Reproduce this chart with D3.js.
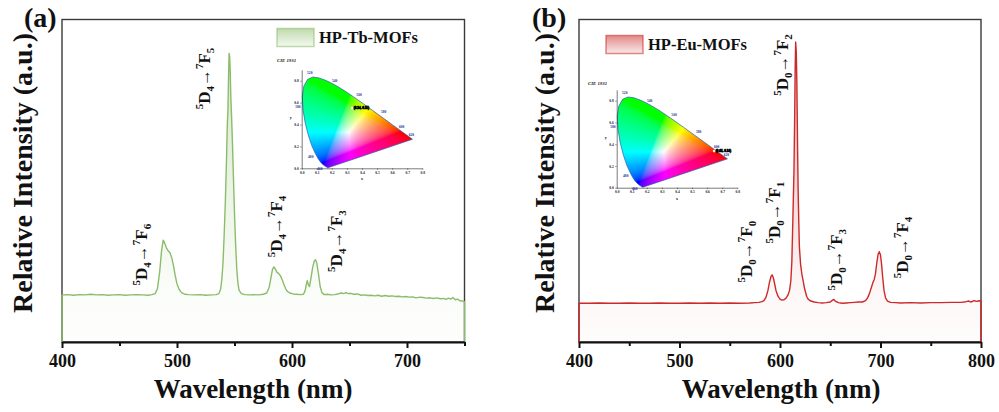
<!DOCTYPE html>
<html lang="en">
<head>
<meta charset="UTF-8">
<title>HP-Tb-MOFs / HP-Eu-MOFs emission spectra</title>
<script src="https://cdn.jsdelivr.net/npm/d3@7"></script>
<style>
    body { margin: 0; background: #fff; }
    svg { display: block; font-family: "Times New Roman", "Liberation Serif", serif; }
</style>
</head>
<body>
<script>
    // ---- spectrum (a) : HP-Tb-MOFs
    var tbWavelength = [400, 405, 410, 415, 420, 425, 430, 435, 440, 445, 450, 455, 460, 465, 470, 475, 478, 481, 483, 485,
        486.5, 488, 489.5, 491, 492.5, 494, 495.5, 497, 498.5, 500, 502, 504, 507, 510, 515, 520, 525, 530, 534, 536.5,
        538, 539, 540, 541, 542, 543, 543.8, 544.3, 544.8, 545.3, 545.8, 546.3, 546.8, 547.4, 548.2, 549, 550, 551, 552, 553,
        554, 556, 559, 563, 567, 571, 575, 578, 580, 581.5, 583, 584.3, 585.5, 587, 588.5, 590, 591.5, 593, 594.5, 596,
        598, 601, 604, 607, 610, 611.5, 612.5, 613.3, 614.2, 615.2, 616.5, 618, 619.5, 620.5, 621.5, 623, 624.5, 626, 628, 631,
        634, 637, 640, 643, 645, 647, 649, 651, 654, 657, 660, 663, 666, 669, 672, 675, 678, 681, 684, 687,
        690, 693, 696, 699, 702, 705, 708, 711, 714, 717, 720, 723, 726, 729, 732, 734, 736, 738, 740, 742,
        744, 746, 748, 750];
    var tbIntensity = [146, 147, 145, 147, 146, 148, 146, 147, 145, 146, 147, 145, 146, 147, 146, 145, 147, 150, 165, 220,
        280, 316, 305, 290, 282, 276, 260, 235, 205, 180, 162, 153, 148, 147, 146, 147, 145, 146, 147, 150,
        165, 195, 245, 330, 430, 560, 680, 720, 820, 895, 885, 840, 760, 705, 620, 520, 400, 300, 225, 182,
        160, 150, 147, 146, 147, 146, 148, 152, 168, 195, 225, 233, 226, 216, 212, 205, 193, 178, 165, 157,
        152, 149, 148, 147, 148, 160, 180, 190, 178, 172, 198, 232, 252, 255, 246, 212, 172, 153, 147, 148,
        146, 147, 149, 152, 150, 153, 150, 151, 148, 149, 145, 146, 144, 145, 143, 145, 142, 144, 142, 143,
        141, 142, 140, 141, 139, 140, 137, 139, 138, 136, 137, 135, 137, 134, 135, 132, 136, 133, 138, 131,
        133, 128, 127, 125];

    // ---- spectrum (b) : HP-Eu-MOFs
    var euWavelength = [400, 410, 420, 430, 440, 450, 460, 470, 480, 490, 500, 510, 520, 530, 540, 550, 560, 570, 575, 579,
        582, 584, 586, 588, 589.5, 591, 592.2, 593.3, 594.5, 596, 598, 600, 602, 604, 606, 608, 609.5, 610.8, 611.8, 612.8,
        613.9, 614.6, 615.1, 615.6, 616.2, 616.8, 617.5, 618, 618.7, 619.3, 620.5, 621.8, 623, 624.5, 626.5, 628, 630, 634, 638, 642,
        646, 650, 652, 653.5, 655, 658, 662, 666, 670, 674, 678, 682, 685, 687, 689, 691, 692.5, 693.8, 695, 696.3,
        697.6, 698.8, 700, 701, 702.2, 703.5, 705, 707, 710, 715, 720, 730, 740, 750, 760, 770, 780, 785, 788, 790,
        793, 796, 798, 800];
    var euIntensity = [120, 120, 121, 120, 120, 121, 120, 120, 121, 120, 120, 121, 120, 121, 120, 121, 120, 121, 122, 123,
        125, 128, 138, 160, 185, 203, 208, 200, 183, 160, 142, 133, 130, 131, 136, 146, 160, 190, 250, 380,
        532, 700, 850, 930, 900, 800, 600, 480, 370, 295, 240, 210, 190, 165, 142, 133, 128, 124, 122, 121,
        122, 124, 129, 132, 127, 122, 120, 121, 122, 123, 124, 124, 128, 136, 150, 170, 185, 194, 212, 245,
        272, 280, 270, 243, 200, 160, 137, 127, 123, 122, 121, 122, 121, 122, 122, 123, 123, 125, 127, 124,
        128, 126, 128, 127];

    // ---- transition labels (wavelength / intensity where each label is centred)
    var tbLabelWl = [473.9, 528.7, 591.3, 643.5];
    var tbLabelY = [271, 817, 358, 313];
    var tbLevel = ["6", "5", "4", "3"];
    var euLabelWl = [572.1, 600, 608, 661.7, 727.4];
    var euLabelY = [280, 401, 859, 255, 293];
    var euLevel = ["0", "1", "2", "3", "4"];

    // ---- axis ticks
    var tbMajor = [400, 500, 600, 700];
    var tbMinor = [450, 550, 650, 750];
    var euMajor = [400, 500, 600, 700, 800];
    var euMinor = [450, 550, 650, 750];

    // ---- CIE 1931 spectral locus
    var cieWl = [380, 400, 420, 440, 450, 460, 470, 475, 480, 485, 490, 495, 500, 505, 510, 515, 520, 525, 530, 535,
        540, 545, 550, 555, 560, 565, 570, 575, 580, 585, 590, 595, 600, 610, 620, 630, 640, 650, 700];
    var cieX = [0.1741, 0.1733, 0.1714, 0.1644, 0.1566, 0.1440, 0.1241, 0.1096, 0.0913, 0.0687, 0.0454, 0.0235, 0.0082, 0.0039,
        0.0139, 0.0389, 0.0743, 0.1142, 0.1547, 0.1929, 0.2296, 0.2658, 0.3016, 0.3373, 0.3731, 0.4087, 0.4441, 0.4788,
        0.5125, 0.5448, 0.5752, 0.6029, 0.6270, 0.6658, 0.6915, 0.7079, 0.7190, 0.7260, 0.7347];
    var cieY = [0.0050, 0.0048, 0.0051, 0.0109, 0.0177, 0.0297, 0.0578, 0.0868, 0.1327, 0.2007, 0.2950, 0.4127, 0.5384, 0.6548,
        0.7502, 0.8120, 0.8338, 0.8262, 0.8059, 0.7816, 0.7543, 0.7243, 0.6923, 0.6589, 0.6245, 0.5896, 0.5547, 0.5202,
        0.4866, 0.4544, 0.4242, 0.3965, 0.3725, 0.3340, 0.3083, 0.2920, 0.2809, 0.2740, 0.2653];
    var cieLabelWl = [460, 480, 500, 520, 540, 560, 580, 600, 620];
    var cieXTicks = [0, 0.1, 0.2, 0.3, 0.4, 0.5, 0.6, 0.7, 0.8];
    var cieYTicks = [0, 0.2, 0.4, 0.6, 0.8];
    var tbCoord = [0.335, 0.55];
    var euCoord = [0.647, 0.337];

    var width = 999, height = 412;
    var serif = '"Times New Roman", "Liberation Serif", serif';

    var svg = d3.select("body").append("svg")
        .attr("width", width)
        .attr("height", height);
    var defs = svg.append("defs");

    // vertical fade: stops = [[offset, opacity], ...]
    function gradient(id, color, stops, y1, y2) {
        var g = defs.append("linearGradient").attr("id", id)
            .attr("gradientUnits", "userSpaceOnUse")
            .attr("x1", 0).attr("x2", 0).attr("y1", y1).attr("y2", y2);
        stops.forEach(function (s) {
            g.append("stop").attr("offset", s[0]).attr("stop-color", color).attr("stop-opacity", s[1]);
        });
    }

    function drawPanel(p) {
        var x = d3.scaleLinear().domain(p.domain).range([p.left, p.right]);
        var y = d3.scaleLinear().domain([0, 1000]).range([p.bottom, p.top]);
        var pts = p.wl.map(function (d, i) { return [d, p.val[i]]; });

        gradient(p.id + "fill", p.color, [[0, 0.38], [0.55, 0.16], [0.84, 0.04], [1, 0.015]], p.top, p.bottom);
        gradient(p.id + "leg", p.color, [[0, 0.55], [1, 0.1]], p.legY, p.legY + 18);

        // frame
        svg.append("rect")
            .attr("x", p.left).attr("y", p.top)
            .attr("width", p.right - p.left).attr("height", p.bottom - p.top)
            .attr("fill", "none").attr("stroke", "#3a3a3a").attr("stroke-width", 1.4);

        // filled area + line (line closes down to the bottom axis at both ends)
        svg.append("path")
            .datum(pts)
            .attr("d", d3.area().x(function (d) { return x(d[0]); }).y0(y(0)).y1(function (d) { return y(d[1]); }))
            .attr("fill", "url(#" + p.id + "fill)");
        var linePts = [[p.wl[0], 0]].concat(pts).concat([[p.wl[p.wl.length - 1], 0]]);
        svg.append("path")
            .datum(linePts)
            .attr("d", d3.line().x(function (d) { return x(d[0]); }).y(function (d) { return y(d[1]); }))
            .attr("fill", "none")
            .attr("stroke", p.color)
            .attr("stroke-width", 1.4)
            .attr("stroke-linejoin", "round");

        // bottom axis, major + minor ticks
        var gx = svg.append("g").attr("transform", "translate(0," + p.bottom + ")")
            .call(d3.axisBottom(x).tickValues(p.major).tickSize(6).tickSizeOuter(0).tickPadding(6).tickFormat(d3.format("d")));
        gx.select(".domain").attr("stroke", "#111").attr("stroke-width", 2);
        gx.selectAll(".tick line").attr("stroke", "#111").attr("stroke-width", 2);
        gx.selectAll("text").attr("font-family", serif).attr("font-size", 18).attr("font-weight", "bold").attr("fill", "#111");
        var gm = svg.append("g").attr("transform", "translate(0," + p.bottom + ")")
            .call(d3.axisBottom(x).tickValues(p.minor).tickSize(4).tickSizeOuter(0).tickFormat(""));
        gm.select(".domain").remove();
        gm.selectAll(".tick line").attr("stroke", "#111").attr("stroke-width", 2);

        // axis titles
        svg.append("text")
            .attr("x", p.xTitleX).attr("y", 398)
            .attr("text-anchor", "middle")
            .attr("font-size", 27).attr("font-weight", "bold").attr("fill", "#111")
            .text("Wavelength (nm)");
        svg.append("text")
            .attr("transform", "translate(" + p.yTitleX + ",173) rotate(-90)")
            .attr("text-anchor", "middle")
            .attr("font-size", 28).attr("font-weight", "bold").attr("fill", "#111")
            .text("Relative Intensity (a.u.)");
        svg.append("text")
            .attr("x", p.tagX).attr("y", 27)
            .attr("font-size", 28).attr("font-weight", "bold").attr("fill", "#111")
            .text(p.tag);

        // legend
        svg.append("rect")
            .attr("x", p.legX).attr("y", p.legY).attr("width", 37).attr("height", 18)
            .attr("fill", "url(#" + p.id + "leg)")
            .attr("stroke", p.color).attr("stroke-opacity", 0.55).attr("stroke-width", 1.5);
        svg.append("text")
            .attr("x", p.legX + 42).attr("y", p.legY + 14.5)
            .attr("font-size", 16.5).attr("font-weight", "bold").attr("fill", "#111")
            .text(p.name);

        // transition labels
        p.labWl.forEach(function (wl, i) {
            var t = svg.append("text")
                .attr("transform", "translate(" + x(wl) + "," + y(p.labY[i]) + ") rotate(-90)")
                .attr("text-anchor", "middle")
                .attr("font-size", 17).attr("font-weight", "bold").attr("fill", "#111");
            t.append("tspan").attr("font-size", 11).attr("dy", -7).text("5");
            t.append("tspan").attr("dy", 7).text("D");
            t.append("tspan").attr("font-size", 11).attr("dy", 4).text(p.dSub);
            t.append("tspan").attr("dy", -4).text("\u2192");
            t.append("tspan").attr("font-size", 11).attr("dy", -7).text("7");
            t.append("tspan").attr("dy", 7).text("F");
            t.append("tspan").attr("font-size", 11).attr("dy", 4).text(p.levels[i]);
        });
    }

    function xyToRgb(cx, cy) {
        if (cy < 0.004) cy = 0.004;
        var X = cx / cy, Y = 1, Z = (1 - cx - cy) / cy;
        var rgb = [
            3.2406 * X - 1.5372 * Y - 0.4986 * Z,
            -0.9689 * X + 1.8758 * Y + 0.0415 * Z,
            0.0557 * X - 0.2040 * Y + 1.0570 * Z
        ].map(function (v) { return Math.max(v, 0); });
        var m = Math.max(rgb[0], rgb[1], rgb[2]) || 1;
        return rgb.map(function (v) {
            v = v / m;
            v = v <= 0.0031308 ? 12.92 * v : 1.055 * Math.pow(v, 1 / 2.4) - 0.055;
            return Math.round(255 * v);
        });
    }

    function drawCIE(c) {
        var cx = d3.scaleLinear().domain([0, 0.8]).range([c.x0, c.x1]);
        var cy = d3.scaleLinear().domain([0, 0.9]).range([c.y0, c.y1]);
        var locus = cieWl.map(function (d, i) { return [cx(cieX[i]), cy(cieY[i])]; });

        defs.append("clipPath").attr("id", c.id + "clip")
            .append("path").attr("d", "M" + locus.join("L") + "Z");

        // colour field rendered pixel by pixel, clipped to the locus
        var w = Math.ceil(c.x1 - c.x0), h = Math.ceil(c.y0 - c.y1);
        var canvas = document.createElement("canvas");
        canvas.width = w * 2; canvas.height = h * 2;
        var ctx = canvas.getContext("2d");
        var img = ctx.createImageData(w * 2, h * 2);
        for (var j = 0; j < h * 2; j++) {
            for (var i = 0; i < w * 2; i++) {
                var col = xyToRgb(cx.invert(c.x0 + (i + 0.5) / 2), cy.invert(c.y1 + (j + 0.5) / 2));
                var k = (j * w * 2 + i) * 4;
                img.data[k] = col[0]; img.data[k + 1] = col[1]; img.data[k + 2] = col[2]; img.data[k + 3] = 255;
            }
        }
        ctx.putImageData(img, 0, 0);
        svg.append("image")
            .attr("x", c.x0).attr("y", c.y1).attr("width", w).attr("height", h)
            .attr("preserveAspectRatio", "none")
            .attr("href", canvas.toDataURL())
            .attr("clip-path", "url(#" + c.id + "clip)");
        svg.append("path")
            .attr("d", "M" + locus.join("L") + "Z")
            .attr("fill", "none").attr("stroke", "#2b5ea8").attr("stroke-width", 0.7);

        // axes
        var ax = svg.append("g").attr("transform", "translate(0," + c.y0 + ")")
            .call(d3.axisBottom(cx).tickValues(cieXTicks).tickSize(1.5).tickSizeOuter(0).tickPadding(1.5).tickFormat(d3.format(".1f")));
        var ay = svg.append("g").attr("transform", "translate(" + c.x0 + ",0)")
            .call(d3.axisLeft(cy).tickValues(cieYTicks).tickSize(1.5).tickSizeOuter(0).tickPadding(1.5).tickFormat(d3.format(".1f")));
        [ax, ay].forEach(function (g) {
            g.select(".domain").attr("stroke", "#222").attr("stroke-width", 0.6);
            g.selectAll(".tick line").attr("stroke", "#222").attr("stroke-width", 0.5);
            g.selectAll("text").attr("font-family", serif).attr("font-size", 3.6).attr("font-weight", "bold").attr("fill", "#223");
        });
        svg.append("text").attr("x", cx(0.4)).attr("y", c.y0 + 12).attr("text-anchor", "middle")
            .attr("font-size", 4).attr("font-weight", "bold").attr("fill", "#223").text("x");
        svg.append("text").attr("x", c.x0 - 11).attr("y", cy(0.45)).attr("text-anchor", "middle")
            .attr("font-size", 4).attr("font-weight", "bold").attr("fill", "#223").text("y");
        svg.append("text").attr("x", c.titleX).attr("y", c.titleY)
            .attr("font-size", 4.8).attr("font-weight", "bold").attr("font-style", "italic").attr("fill", "#222")
            .text("CIE 1931");

        // wavelength marks along the locus
        cieLabelWl.forEach(function (wl) {
            var i = cieWl.indexOf(wl);
            var px = cx(cieX[i]), py = cy(cieY[i]);
            var dx = px - cx(0.33), dy = py - cy(0.33), n = Math.sqrt(dx * dx + dy * dy);
            svg.append("text")
                .attr("x", px + dx / n * 5.5).attr("y", py + dy / n * 5.5 + 1.2)
                .attr("text-anchor", "middle")
                .attr("font-size", 3.6).attr("font-weight", "bold").attr("fill", "#1c2c96")
                .text(wl);
        });

        // sample coordinate
        svg.append("circle").attr("cx", cx(c.coord[0])).attr("cy", cy(c.coord[1])).attr("r", 1.3)
            .attr("fill", "#fff").attr("stroke", "#ddd").attr("stroke-width", 0.3);
        svg.append("text")
            .attr("x", cx(c.coord[0]) + 1.5).attr("y", cy(c.coord[1]) + 1)
            .attr("font-size", 3.3).attr("font-weight", "bold")
            .attr("fill", "#000").attr("stroke", "#000").attr("stroke-width", 0.7)
            .text("(" + c.coord[0].toFixed(2) + ", " + c.coord[1].toFixed(2) + ")");
    }

    drawPanel({
        id: "tb", left: 62, right: 464.5, top: 19.5, bottom: 342,
        domain: [400, 750], major: tbMajor, minor: tbMinor,
        wl: tbWavelength, val: tbIntensity, color: "#8cbc6a",
        xTitleX: 253, yTitleX: 32, tag: "(a)", tagX: 24,
        legX: 277, legY: 28.5, name: "HP-Tb-MOFs",
        labWl: tbLabelWl, labY: tbLabelY, levels: tbLevel, dSub: "4"
    });
    drawPanel({
        id: "eu", left: 579, right: 981, top: 19.5, bottom: 342,
        domain: [400, 800], major: euMajor, minor: euMinor,
        wl: euWavelength, val: euIntensity, color: "#cc2a2a",
        xTitleX: 781, yTitleX: 554, tag: "(b)", tagX: 532,
        legX: 606, legY: 35.5, name: "HP-Eu-MOFs",
        labWl: euLabelWl, labY: euLabelY, levels: euLevel, dSub: "0"
    });

    drawCIE({ id: "cieA", x0: 301.7, x1: 422.3, y0: 168.3, y1: 69.8, titleX: 277, titleY: 62, coord: tbCoord });
    drawCIE({ id: "cieB", x0: 616.7, x1: 737.3, y0: 187.7, y1: 89.8, titleX: 588, titleY: 85, coord: euCoord });
</script>
</body>
</html>
